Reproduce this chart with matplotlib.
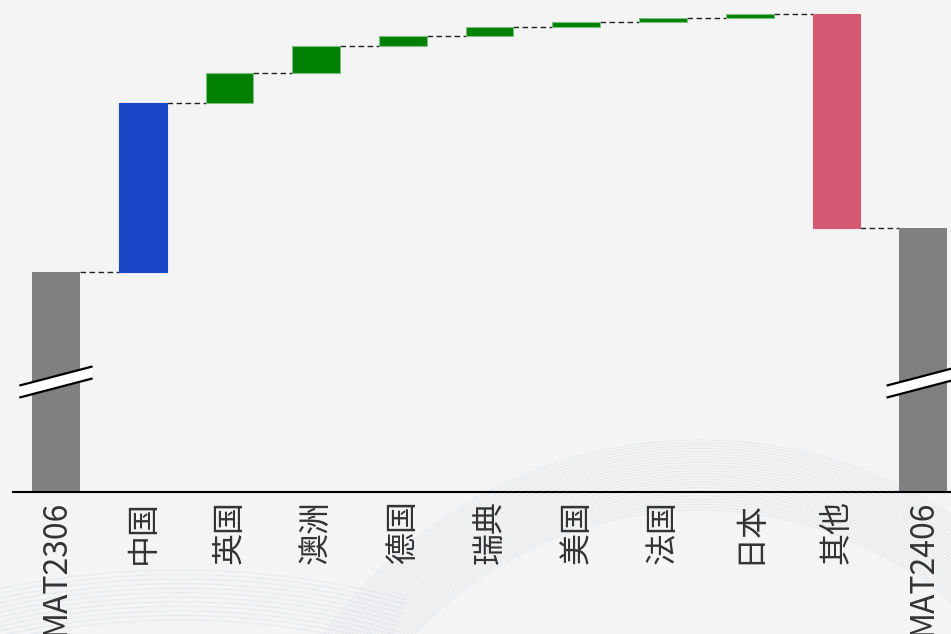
import matplotlib
matplotlib.use('Agg')
import matplotlib.pyplot as plt
import numpy as np

plt.rcParams['font.family'] = ['Noto Sans CJK SC', 'DejaVu Sans']

# data
labels = ['MAT2306', '中国', '英国', '澳洲', '德国', '瑞典', '美国', '法国', '日本', '其他', 'MAT2406']
start_total = 52.0
changes = [16.9, 3.0, 2.7, 1.0, 0.9, 0.5, 0.4, 0.4, -21.4]
change_colors = ['#1c46c8', 'green', 'green', 'green', 'green', 'green', 'green', 'green', '#d45a73']
axis_floor = 30.0   # broken axis starts here

end_total = start_total + sum(changes)

bg = '#f4f4f4'
fig = plt.figure(figsize=(9.51, 6.34), dpi=100, facecolor=bg)

# faint decorative swirl in the background
deco = fig.add_axes([0, 0, 1, 1], zorder=-5)
deco.set_xlim(0, 951)
deco.set_ylim(634, 0)
deco.axis('off')
t = np.linspace(np.pi * 0.95, np.pi * 1.75, 300)
for r in np.linspace(390, 460, 26):
    deco.plot(700 + r * np.cos(t), 900 + r * np.sin(t), color='#c9d2e0', lw=0.8, alpha=0.3)
t2 = np.linspace(np.pi * 1.25, np.pi * 1.6, 200)
for r in np.linspace(560, 610, 12):
    deco.plot(180 + r * np.cos(t2) * 1.2, 1180 + r * np.sin(t2), color='#c9d2e0', lw=0.8, alpha=0.3)

ax = fig.add_axes([12.6 / 951, 1 - 492 / 634, 954 / 951, 492 / 634])
ax.set_facecolor('none')

x = np.arange(len(labels))
w = 0.55

# totals
ax.bar(x[0], start_total, width=w, color='#808080', zorder=2)
ax.bar(x[-1], end_total, width=w, color='#808080', zorder=2)

# changes
level = start_total
levels = [start_total]
for i, (c, col) in enumerate(zip(changes, change_colors), start=1):
    bottom = level if c > 0 else level + c
    ec = '#7fbf7f' if col == 'green' else col
    ax.bar(x[i], abs(c), bottom=bottom, width=w, color=col, edgecolor=ec, linewidth=0.8, zorder=2)
    level += c
    levels.append(level)

# connectors
for i in range(len(labels) - 1):
    ax.plot([x[i] + w / 2, x[i + 1] - w / 2], [levels[i], levels[i]],
            color='#222222', lw=1.0, ls=(0, (4, 2.5)), zorder=1)

# axis break marks on the total bars
for xi in (x[0], x[-1]):
    hw = 0.41
    mid = 41.0
    dy = 0.93
    xs = [xi - hw, xi + hw]
    top = [mid + 0.6 - dy, mid + 0.6 + dy]
    bot = [mid - 0.6 - dy, mid - 0.6 + dy]
    ax.fill([xs[0], xs[1], xs[1], xs[0]], [top[0], top[1], bot[1], bot[0]],
            color='white', zorder=3, clip_on=False)
    ax.plot(xs, top, color='black', lw=1.6, zorder=4, clip_on=False)
    ax.plot(xs, bot, color='black', lw=1.6, zorder=4, clip_on=False)

ax.set_xlim(-0.5, len(labels) - 0.5)
ax.set_ylim(axis_floor, axis_floor + 49.2)
ax.set_xticks(x)
ax.set_xticklabels(labels, rotation=90, fontsize=23, color='#333333')
ax.tick_params(axis='x', length=0, pad=5.5)
ax.set_yticks([])
for s in ['top', 'right', 'left']:
    ax.spines[s].set_visible(False)
ax.spines['bottom'].set_linewidth(1.5)
ax.spines['bottom'].set_color('black')

fig.savefig('out.png', dpi=100, facecolor=bg)
